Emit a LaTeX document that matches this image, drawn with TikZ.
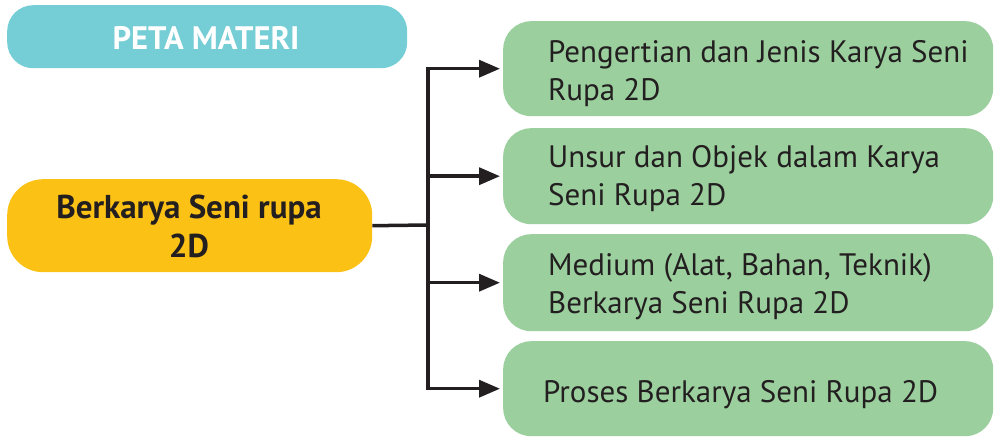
\documentclass[tikz,border=0pt]{standalone}
\usepackage{fontspec}
\setmainfont{PT Sans}
\usetikzlibrary{arrows.meta}
\definecolor{tealbox}{HTML}{75CDD5}
\definecolor{yellowbox}{HTML}{FBC115}
\definecolor{greenbox}{HTML}{9BD09E}
\definecolor{ink}{HTML}{231F20}
\begin{document}
\begin{tikzpicture}[x=1pt,y=-1pt,
  box/.style={rectangle, inner sep=0pt, draw=none},
  greenbox/.style={box, fill=greenbox, rounded corners=28pt, minimum width=490pt, minimum height=95pt, anchor=north west},
  gtext/.style={inner sep=0pt, anchor=base west, align=left, text=ink, font=\fontsize{31}{37.5}\selectfont},
  conn/.style={draw=ink, line width=3.5pt, line join=miter},
  arr/.style={conn, -{Triangle[length=21pt,width=17pt]}, shorten >=3pt}
]
\useasboundingbox (0,0) rectangle (995,436);
\node[box, fill=tealbox, rounded corners=26pt, minimum width=400pt, minimum height=63pt, anchor=north west] (peta) at (7,5) {};
\node[inner sep=0pt, anchor=base, text=white, font=\bfseries\fontsize{32.5}{36}\selectfont] (petat) at (206,50) {PETA MATERI};

\node[box, fill=yellowbox, rounded corners=36pt, minimum width=365pt, minimum height=93pt, anchor=north west] (main) at (7,179) {};
\node[inner sep=0pt, anchor=base, align=center, text=ink, font=\bfseries\fontsize{33}{39}\selectfont] (maint) at (189,257) {Berkarya Seni rupa\\2D};

\node[greenbox] (g1) at (503,21) {};
\node[greenbox, minimum height=96pt] (g2) at (503,128) {};
\node[greenbox, minimum height=97pt] (g3) at (503,234) {};
\node[greenbox, minimum height=95pt] (g4) at (503,341) {};

\node[gtext] (t1) at (548,100) {Pengertian dan Jenis Karya Seni\\Rupa 2D};
\node[gtext] (t2) at (548,205) {Unsur dan Objek dalam Karya\\Seni Rupa 2D};
\node[gtext] (t3) at (548,313) {Medium (Alat, Bahan, Teknik)\\Berkarya Seni Rupa 2D};
\node[gtext] (t4) at (543,402) {Proses Berkarya Seni Rupa 2D};

\coordinate (j) at (428,225);
\draw[conn] (main.east) -- (j);
\draw[arr] (j) |- (g1.west);
\draw[arr] (j) |- (g2.west);
\draw[arr] (j) |- (g3.west);
\draw[arr] (j) |- (g4.west);
\end{tikzpicture}
\end{document}
